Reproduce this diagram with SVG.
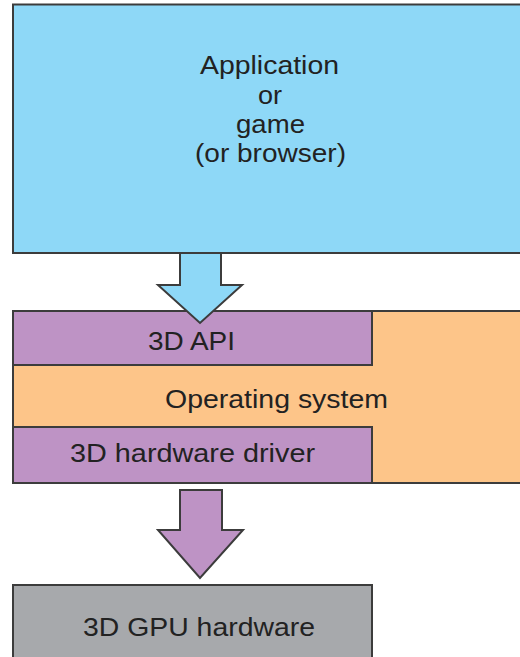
<svg xmlns="http://www.w3.org/2000/svg" width="520" height="657" viewBox="0 0 520 657">
<style>
.box{stroke:#3c3c3c;stroke-width:2}
.app{fill:#8ed8f7}
.os{fill:#fdc589}
.drv{fill:#be93c5}
.gpu{fill:#a7a9ac}
.lbl{font-family:"Liberation Sans",Arial,sans-serif;font-size:26px;fill:#222;text-anchor:middle}
.arrow{stroke:#3c3c3c;stroke-width:2;stroke-linejoin:miter}
</style>
<rect width="520" height="657" fill="#ffffff"/>
<g id="app">
<rect class="box app" x="13" y="4.5" width="520" height="248.5"/>
<text class="lbl" x="269.5" y="74" textLength="139" lengthAdjust="spacingAndGlyphs">Application</text>
<text class="lbl" x="270" y="104" textLength="24" lengthAdjust="spacingAndGlyphs">or</text>
<text class="lbl" x="270.5" y="133" textLength="69" lengthAdjust="spacingAndGlyphs">game</text>
<text class="lbl" x="270.5" y="162" textLength="151" lengthAdjust="spacingAndGlyphs">(or browser)</text>
</g>
<g id="os">
<rect class="box os" x="13" y="311" width="520" height="172"/>
<text class="lbl" x="276.5" y="408" textLength="223" lengthAdjust="spacingAndGlyphs">Operating system</text>
</g>
<g id="api">
<rect class="box drv" x="13" y="311" width="359" height="54"/>
<text class="lbl" x="191.5" y="350" textLength="87" lengthAdjust="spacingAndGlyphs">3D API</text>
</g>
<g id="driver">
<rect class="box drv" x="13" y="427" width="359" height="56"/>
<text class="lbl" x="192.5" y="462" textLength="245" lengthAdjust="spacingAndGlyphs">3D hardware driver</text>
</g>
<g id="gpu">
<rect class="box gpu" x="13" y="585" width="359" height="90"/>
<text class="lbl" x="199" y="636" textLength="232" lengthAdjust="spacingAndGlyphs">3D GPU hardware</text>
</g>
<g id="connectors">
<polygon class="arrow app" points="180,253 221,253 221,285 242,285 200,323 158,285 180,285"/>
<polygon class="arrow drv" points="180,490 222,490 222,530 243,530 200,578 158,530 180,530"/>
</g>
</svg>
